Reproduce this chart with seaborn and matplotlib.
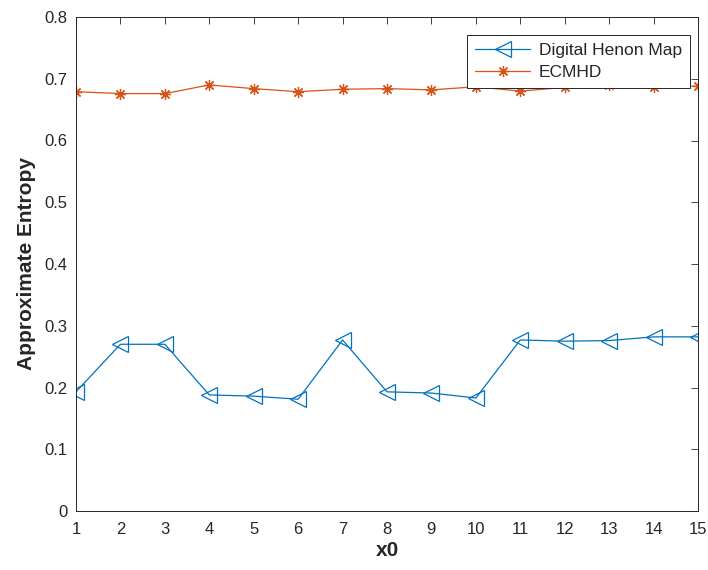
import pandas as pd
import seaborn as sns
import matplotlib.pyplot as plt

# values
x0 = list(range(1, 16))
henon = [0.193, 0.270, 0.270, 0.188, 0.186, 0.181, 0.277, 0.193,
         0.191, 0.183, 0.277, 0.275, 0.276, 0.282, 0.282]
ecmhd = [0.679, 0.676, 0.676, 0.690, 0.684, 0.679, 0.683, 0.684,
         0.682, 0.687, 0.680, 0.686, 0.690, 0.687, 0.688]

sns.set_style('white')
plt.rcParams['font.family'] = ['Liberation Sans', 'DejaVu Sans']

df = pd.DataFrame({'x0': x0, 'henon': henon, 'ecmhd': ecmhd})

fig = plt.figure(figsize=(7.08, 5.70), dpi=100)
ax = fig.add_axes([76 / 708, 59 / 570, 622 / 708, 494 / 570])

sns.lineplot(data=df, x='x0', y='henon', ax=ax, color='#0072BD', lw=0.9,
             marker='<', markersize=11, markerfacecolor='none',
             markeredgecolor='#0072BD', markeredgewidth=0.9,
             label='Digital Henon Map')
sns.lineplot(data=df, x='x0', y='ecmhd', ax=ax, color='#D95319', lw=0.9,
             marker=(8, 2, 0), markersize=8, markerfacecolor='none',
             markeredgecolor='#D95319', markeredgewidth=0.9,
             label='ECMHD')

ax.set_xlim(1, 15)
ax.set_ylim(0, 0.8)
ax.set_xticks(x0)
ax.set_yticks([i / 10 for i in range(9)])
ax.set_yticklabels(['0'] + [f'{i / 10:.1f}' for i in range(1, 9)])
ax.tick_params(direction='in', length=5, width=0.6, labelsize=12,
               top=True, right=True, colors='#262626')
ax.tick_params(axis='x', pad=8)
ax.tick_params(axis='y', pad=6)
for s in ax.spines.values():
    s.set_color('#262626')
    s.set_linewidth(0.7)

ax.set_xlabel('x0', fontsize=15, fontweight='bold', labelpad=3)
ax.set_ylabel('Approximate Entropy', fontsize=15, fontweight='bold', labelpad=6)

leg = ax.legend(loc='upper right', bbox_to_anchor=(614 / 622, 0.9636), fontsize=12.5,
                frameon=True, fancybox=False, edgecolor='#262626', framealpha=1,
                borderpad=0.45, handlelength=3.2, handletextpad=0.5,
                labelspacing=0.4, borderaxespad=0)
leg.get_frame().set_linewidth(0.7)

fig.savefig('out.png', dpi=100)
